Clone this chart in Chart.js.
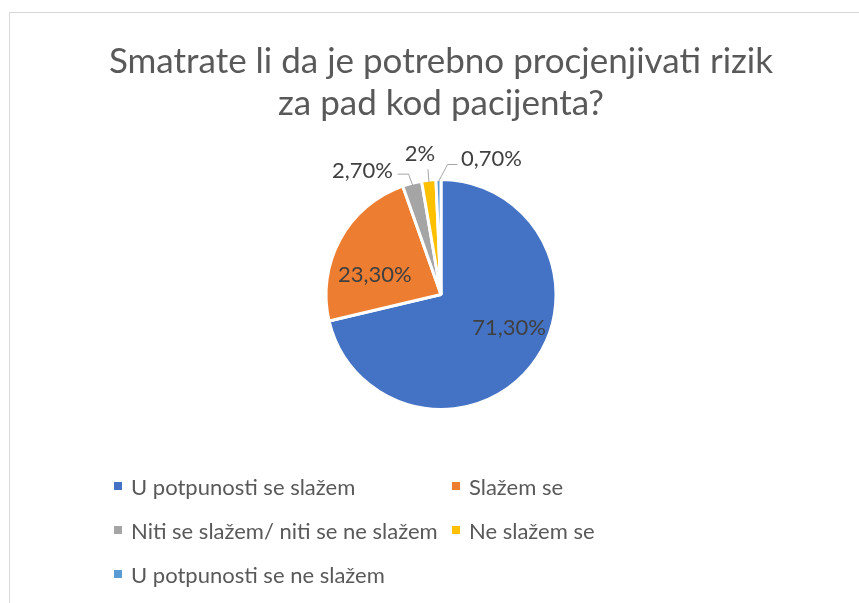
<!DOCTYPE html>
<html>
<head>
<meta charset="utf-8">
<script src="https://cdn.jsdelivr.net/npm/chart.js@4.4.1/dist/chart.umd.min.js"></script>
<style>
  html, body { margin: 0; padding: 0; background: #fff; overflow: hidden; width: 859px; height: 603px; }
  .frame { position: absolute; left: 9px; top: 12px; width: 900px; height: 700px; border: 1px solid #d9d9d9; box-sizing: border-box; }
  .wrap { position: absolute; left: 0; top: 0; width: 882px; height: 603px; }
  .legend { position: absolute; left: 114px; top: 471px; display: grid; grid-template-columns: 338px auto; row-gap: 14px;
    font-family: Lato, "Open Sans", sans-serif; font-size: 22px; color: #595959; }
  .legend div { display: flex; align-items: center; height: 30px; white-space: nowrap; }
  .legend span.box { display: inline-block; width: 8px; height: 8px; margin-right: 9px; }
</style>
</head>
<body>
<div class="frame"></div>
<div class="wrap"><canvas id="chart"></canvas></div>
<div class="legend" id="legend"></div>
<script>
// data
const title = ['Smatrate li da je potrebno procjenjivati rizik', 'za pad kod pacijenta?']
const categories = [
  'U potpunosti se slažem',
  'Slažem se',
  'Niti se slažem/ niti se ne slažem',
  'Ne slažem se',
  'U potpunosti se ne slažem'
]
const values = [71.3, 23.3, 2.7, 2, 0.7]
const valueLabels = ['71,30%', '23,30%', '2,70%', '2%', '0,70%']
const colors = ['#4472C4', '#ED7D31', '#A5A5A5', '#FFC000', '#5B9BD5']

// label placement: inside (fraction of radius, angle shift) or outside with a leader line
const labelStyle = [
  { inside: 0.66, rot: -12 },
  { inside: 0.6, rot: -12 },
  { dx: -50, dy: -14, elbow: [-4, -11], end: [-15, -11] },
  { dx: -9, dy: -28, elbow: [-1, -13], end: [-1, -13] },
  { dx: 53, dy: -23, elbow: [9, -17], end: [19, -17] }
]

const pieLabels = {
  id: 'pieLabels',
  afterDatasetsDraw(chart) {
    const ctx = chart.ctx
    const meta = chart.getDatasetMeta(0)
    ctx.save()
    ctx.font = '22px Lato, "Open Sans", sans-serif'
    ctx.fillStyle = '#404040'
    ctx.textAlign = 'center'
    ctx.textBaseline = 'middle'
    meta.data.forEach((arc, i) => {
      const { x, y, startAngle, endAngle, outerRadius } = arc.getProps(['x', 'y', 'startAngle', 'endAngle', 'outerRadius'], true)
      const mid = (startAngle + endAngle) / 2
      const s = labelStyle[i]
      if (s.inside) {
        const r = outerRadius * s.inside
        const a = mid + s.rot * Math.PI / 180
        ctx.fillText(valueLabels[i], x + Math.cos(a) * r, y + Math.sin(a) * r)
        return
      }
      const ex = x + Math.cos(mid) * (outerRadius - 2)
      const ey = y + Math.sin(mid) * (outerRadius - 2)
      ctx.strokeStyle = '#a6a6a6'
      ctx.lineWidth = 1
      ctx.beginPath()
      ctx.moveTo(ex, ey)
      ctx.lineTo(ex + s.elbow[0], ey + s.elbow[1])
      ctx.lineTo(ex + s.end[0], ey + s.end[1])
      ctx.stroke()
      ctx.fillText(valueLabels[i], ex + s.dx, ey + s.dy)
    })
    ctx.restore()
  }
}

const chart = new Chart(document.getElementById('chart'), {
  type: 'pie',
  data: {
    labels: categories,
    datasets: [{
      data: values,
      backgroundColor: colors,
      borderColor: '#ffffff',
      borderWidth: 3
    }]
  },
  options: {
    responsive: true,
    maintainAspectRatio: false,
    animation: false,
    layout: { padding: { top: 0, bottom: 192, left: 0, right: 0 } },
    plugins: {
      legend: { display: false },
      tooltip: { enabled: false },
      title: {
        display: true,
        text: title,
        color: '#595959',
        font: { family: 'Lato, "Open Sans", sans-serif', size: 35, weight: 'normal', lineHeight: 1.2 },
        padding: { top: 41, bottom: 53 }
      }
    }
  },
  plugins: [pieLabels]
})

// legend from the chart's own legend items
const legendEl = document.getElementById('legend')
chart.options.plugins.legend.labels.generateLabels(chart).forEach(item => {
  const row = document.createElement('div')
  const box = document.createElement('span')
  box.className = 'box'
  box.style.background = item.fillStyle
  row.appendChild(box)
  row.appendChild(document.createTextNode(item.text))
  legendEl.appendChild(row)
})
</script>
</body>
</html>
